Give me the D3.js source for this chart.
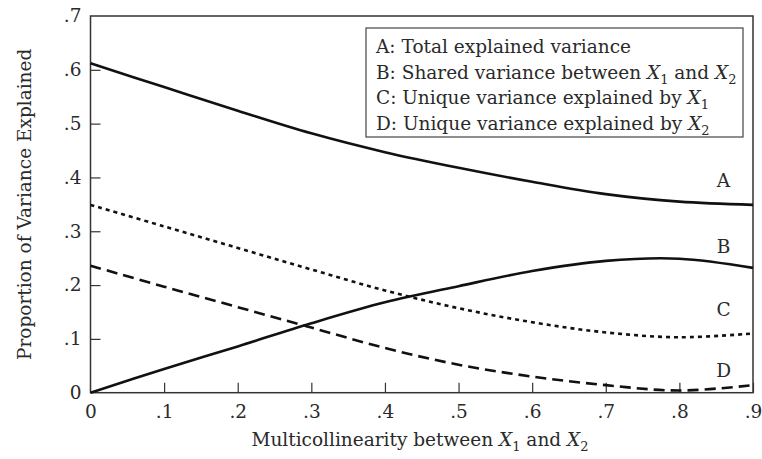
<!DOCTYPE html>
<html>
<head>
<meta charset="utf-8">
<script src="https://cdn.jsdelivr.net/npm/d3@7"></script>
<style>
  body { margin: 0; background: #fff; }
  svg { display: block; }
</style>
</head>
<body>
<div id="chart"></div>
<script>
// Values
const multicollinearity = [0, 0.1, 0.2, 0.3, 0.4, 0.5, 0.6, 0.7, 0.8, 0.9]
const totalA = [0.612, 0.568, 0.524, 0.482, 0.447, 0.418, 0.392, 0.369, 0.355, 0.349]
const sharedB = [0.000, 0.044, 0.086, 0.129, 0.168, 0.198, 0.226, 0.245, 0.249, 0.232]
const uniqueC = [0.349, 0.309, 0.269, 0.229, 0.190, 0.157, 0.131, 0.112, 0.103, 0.110]
const uniqueD = [0.236, 0.197, 0.159, 0.121, 0.083, 0.052, 0.030, 0.014, 0.004, 0.014]

const xTicks = [0, 0.1, 0.2, 0.3, 0.4, 0.5, 0.6, 0.7, 0.8, 0.9]
const xTickLabels = ['0', '.1', '.2', '.3', '.4', '.5', '.6', '.7', '.8', '.9']
const yTicks = [0, 0.1, 0.2, 0.3, 0.4, 0.5, 0.6, 0.7]
const yTickLabels = ['0', '.1', '.2', '.3', '.4', '.5', '.6', '.7']

const seriesNames = ['A', 'B', 'C', 'D']
const legendLines = [
  'A: Total explained variance',
  'B: Shared variance between X1 and X2',
  'C: Unique variance explained by X1',
  'D: Unique variance explained by X2'
]
// where the curve letters sit (data units)
const letterX = [0.86, 0.86, 0.86, 0.86]
const letterY = [0.382, 0.260, 0.142, 0.030]

const width = 762
const height = 459
const margin = {left: 90.5, right: 9, top: 16, bottom: 66.3}
const w = width - margin.left - margin.right
const h = height - margin.top - margin.bottom
const fontFamily = '"DejaVu Serif", "Liberation Serif", serif'
const fontSize = '18.5px'
const ink = '#2a2a2a'

const svg = d3.select('#chart')
  .append('svg')
  .attr('width', width)
  .attr('height', height)
  .style('font-family', fontFamily)

const x = d3.scaleLinear().domain([0, 0.9]).range([0, w])
const y = d3.scaleLinear().domain([0, 0.7]).range([h, 0])

const g = svg.append('g')
  .attr('transform', `translate(${margin.left},${margin.top})`)

// Frame
g.append('rect')
  .attr('x', 0).attr('y', 0)
  .attr('width', w).attr('height', h)
  .attr('fill', 'none')
  .attr('stroke', '#333')
  .attr('stroke-width', 1.5)

// Axes, ticks pointing inward
const xAxis = g.append('g')
  .attr('transform', `translate(0,${h})`)
  .call(d3.axisBottom(x)
    .tickValues(xTicks)
    .tickFormat((d, i) => xTickLabels[i])
    .tickSizeInner(-10)
    .tickSizeOuter(0)
    .tickPadding(12))
const yAxis = g.append('g')
  .call(d3.axisLeft(y)
    .tickValues(yTicks)
    .tickFormat((d, i) => yTickLabels[i])
    .tickSizeInner(-10)
    .tickSizeOuter(0)
    .tickPadding(9))

;[xAxis, yAxis].forEach(ax => {
  ax.select('.domain').remove()
  ax.selectAll('line').attr('stroke', '#333').attr('stroke-width', 1.2)
  ax.selectAll('text')
    .attr('fill', ink)
    .style('font-family', fontFamily)
    .style('font-size', fontSize)
})
xAxis.selectAll('.tick').filter(d => d === 0).select('line').remove()
yAxis.selectAll('.tick').filter(d => d === 0 || d === 0.7).select('line').remove()

// Curves
const line = d3.line()
  .x(d => x(d[0]))
  .y(d => y(d[1]))
  .curve(d3.curveCatmullRom.alpha(0.5))

const seriesData = [totalA, sharedB, uniqueC, uniqueD]
const dashes = [null, null, '4,4', '11,6']

seriesData.forEach((vals, i) => {
  g.append('path')
    .datum(multicollinearity.map((m, j) => [m, vals[j]]))
    .attr('fill', 'none')
    .attr('stroke', '#111')
    .attr('stroke-width', 2.6)
    .attr('stroke-dasharray', dashes[i])
    .attr('d', line)
})

// Curve letters
g.selectAll('.curveLetter')
  .data(seriesNames)
  .join('text')
  .attr('class', 'curveLetter')
  .attr('x', (d, i) => x(letterX[i]))
  .attr('y', (d, i) => y(letterY[i]))
  .attr('text-anchor', 'middle')
  .attr('fill', ink)
  .style('font-size', fontSize)
  .text(d => d)

// Text with italic X and subscripts
function richText(sel, str) {
  let shift = 0
  str.split(/(X[12])/).forEach(part => {
    if (/^X[12]$/.test(part)) {
      sel.append('tspan').attr('dy', -shift).style('font-style', 'italic').text('X')
      sel.append('tspan').attr('dy', 5).style('font-size', '13px').text(part[1])
      shift = 5
    } else if (part) {
      sel.append('tspan').attr('dy', -shift).text(part)
      shift = 0
    }
  })
}

// Legend
const legend = g.append('g')
  .attr('transform', `translate(${366 - margin.left},${28 - margin.top})`)
legend.append('rect')
  .attr('width', 377)
  .attr('height', 109)
  .attr('fill', '#fff')
  .attr('stroke', '#444')
  .attr('stroke-width', 1.2)
legendLines.forEach((s, i) => {
  const t = legend.append('text')
    .attr('x', 10)
    .attr('y', 25 + i * 25.5)
    .attr('fill', ink)
    .style('font-size', fontSize)
  richText(t, s)
})

// Axis titles
const xTitle = svg.append('text')
  .attr('x', 420)
  .attr('y', 446)
  .attr('text-anchor', 'middle')
  .attr('fill', ink)
  .style('font-size', fontSize)
richText(xTitle, 'Multicollinearity between X1 and X2')

svg.append('text')
  .attr('transform', `translate(31,${margin.top + h / 2}) rotate(-90)`)
  .attr('text-anchor', 'middle')
  .attr('fill', ink)
  .style('font-size', fontSize)
  .text('Proportion of Variance Explained')
</script>
</body>
</html>
